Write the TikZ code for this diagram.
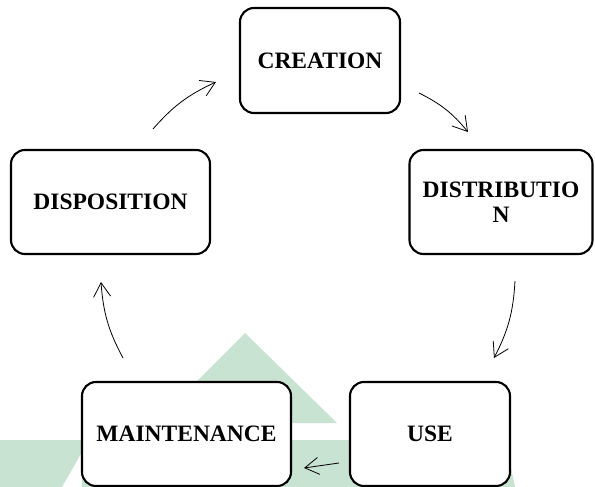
\documentclass[tikz,border=0pt]{standalone}
\usepackage{fontspec}
\setmainfont{Liberation Serif}
\usetikzlibrary{arrows.meta}
\definecolor{wmgreen}{RGB}{200,227,210}
\tikzset{
  stagebox/.style={draw=black, line width=2.1pt, rounded corners=14pt, fill=white,
    align=center, inner sep=0pt, font=\fontsize{23.5}{25}\selectfont\bfseries},
  cyclearrow/.style={line width=0.8pt, -{Straight Barb[length=14pt,width=17pt,line width=0.8pt]}},
}
\begin{document}
\begin{tikzpicture}[x=1pt,y=-1pt]
\useasboundingbox (0,0) rectangle (595,487);
% watermark
\fill[wmgreen] (245,333) -- (337,423) -- (155,423) -- cycle;
\fill[wmgreen] (0,440) -- (505,440) -- (515,487) -- (82,487) -- (82,452) -- (62,487) -- (0,487) -- cycle;
% boxes
\node[stagebox, minimum width=160pt, minimum height=105pt] (creation) at (320,60.5) {CREATION};
\node[stagebox, minimum width=183pt, minimum height=104pt] (distribution) at (501,202) {DISTRIBUTIO\\N};
\node[stagebox, minimum width=199pt, minimum height=104pt] (disposition) at (110.5,202) {DISPOSITION};
\node[stagebox, minimum width=209pt, minimum height=104pt] (maintenance) at (186.5,434) {MAINTENANCE};
\node[stagebox, minimum width=160pt, minimum height=104pt] (use) at (430,434) {USE};
% connector end points
\coordinate (a1) at (153,129); \coordinate (b1) at (216,82);
\coordinate (a2) at (419,93);  \coordinate (b2) at (468,132);
\coordinate (a3) at (515,281); \coordinate (b3) at (494,358);
\coordinate (a4) at (339,463); \coordinate (b4) at (304,468);
\coordinate (a5) at (123,358); \coordinate (b5) at (101,282);
\draw[cyclearrow] (a1) to[bend left=12] (b1);
\draw[cyclearrow] (a2) to[bend left=12] (b2);
\draw[cyclearrow] (a3) to[bend left=12] (b3);
\draw[cyclearrow] (a4) to (b4);
\draw[cyclearrow] (a5) to[bend left=12] (b5);
\end{tikzpicture}
\end{document}
